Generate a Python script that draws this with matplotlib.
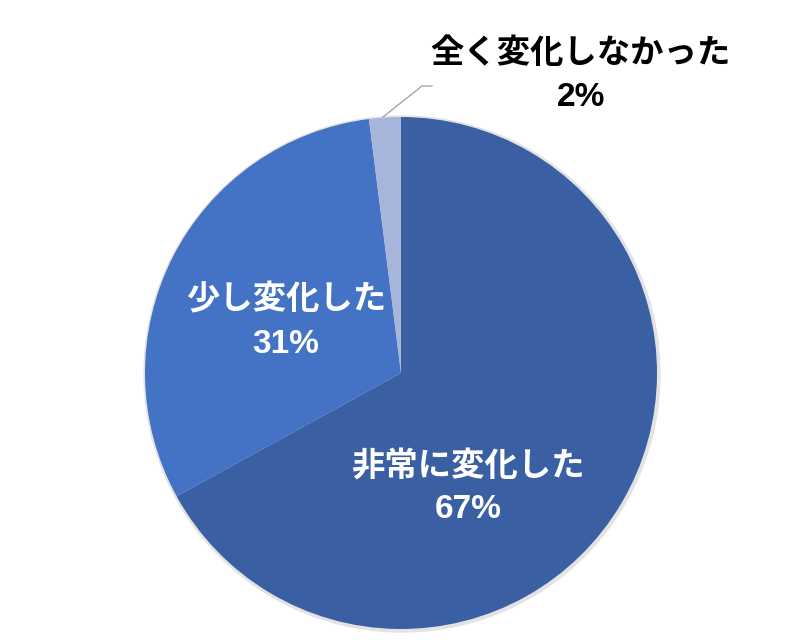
import matplotlib
matplotlib.use("Agg")
import matplotlib.pyplot as plt
from matplotlib.patches import Circle

plt.rcParams['font.family'] = ['Liberation Sans', 'Noto Sans CJK JP']

labels = ['非常に変化した', '少し変化した', '全く変化しなかった']
values = [67, 31, 2]
colors = ['#3A5FA3', '#4472C4', '#A7B5DB']
text_colors = ['white', 'white', 'black']
# label centres in figure pixels (x, y from top)
label_pos = [(468, 488), (286, 322), (581, 76)]

fig = plt.figure(figsize=(8, 6.4), dpi=100)
ax = fig.add_axes([0, 0, 1, 1])

cx, cy, r = 401, 640 - 373, 256

# soft edge shadow
ax.add_patch(Circle((cx + 1, cy - 1), r + 2, color='#e3e3e3', zorder=0))

ax.pie(values, colors=colors, startangle=90, counterclock=False,
       center=(cx, cy), radius=r, frame=True,
       wedgeprops=dict(linewidth=0))
ax.set_xlim(0, 800)
ax.set_ylim(0, 640)
ax.set_aspect('equal')
ax.axis('off')

for lab, v, (x, y), tc in zip(labels, values, label_pos, text_colors):
    ax.text(x, 640 - y, f'{lab}\n{v}%', ha='center', va='center',
            fontsize=24, fontweight='bold', color=tc, linespacing=1.5)

# leader line for the small slice
ax.plot([383, 422, 432], [640 - 117, 640 - 86, 640 - 86],
        color='#a6a6a6', linewidth=1)

fig.savefig('out.png', dpi=100)
